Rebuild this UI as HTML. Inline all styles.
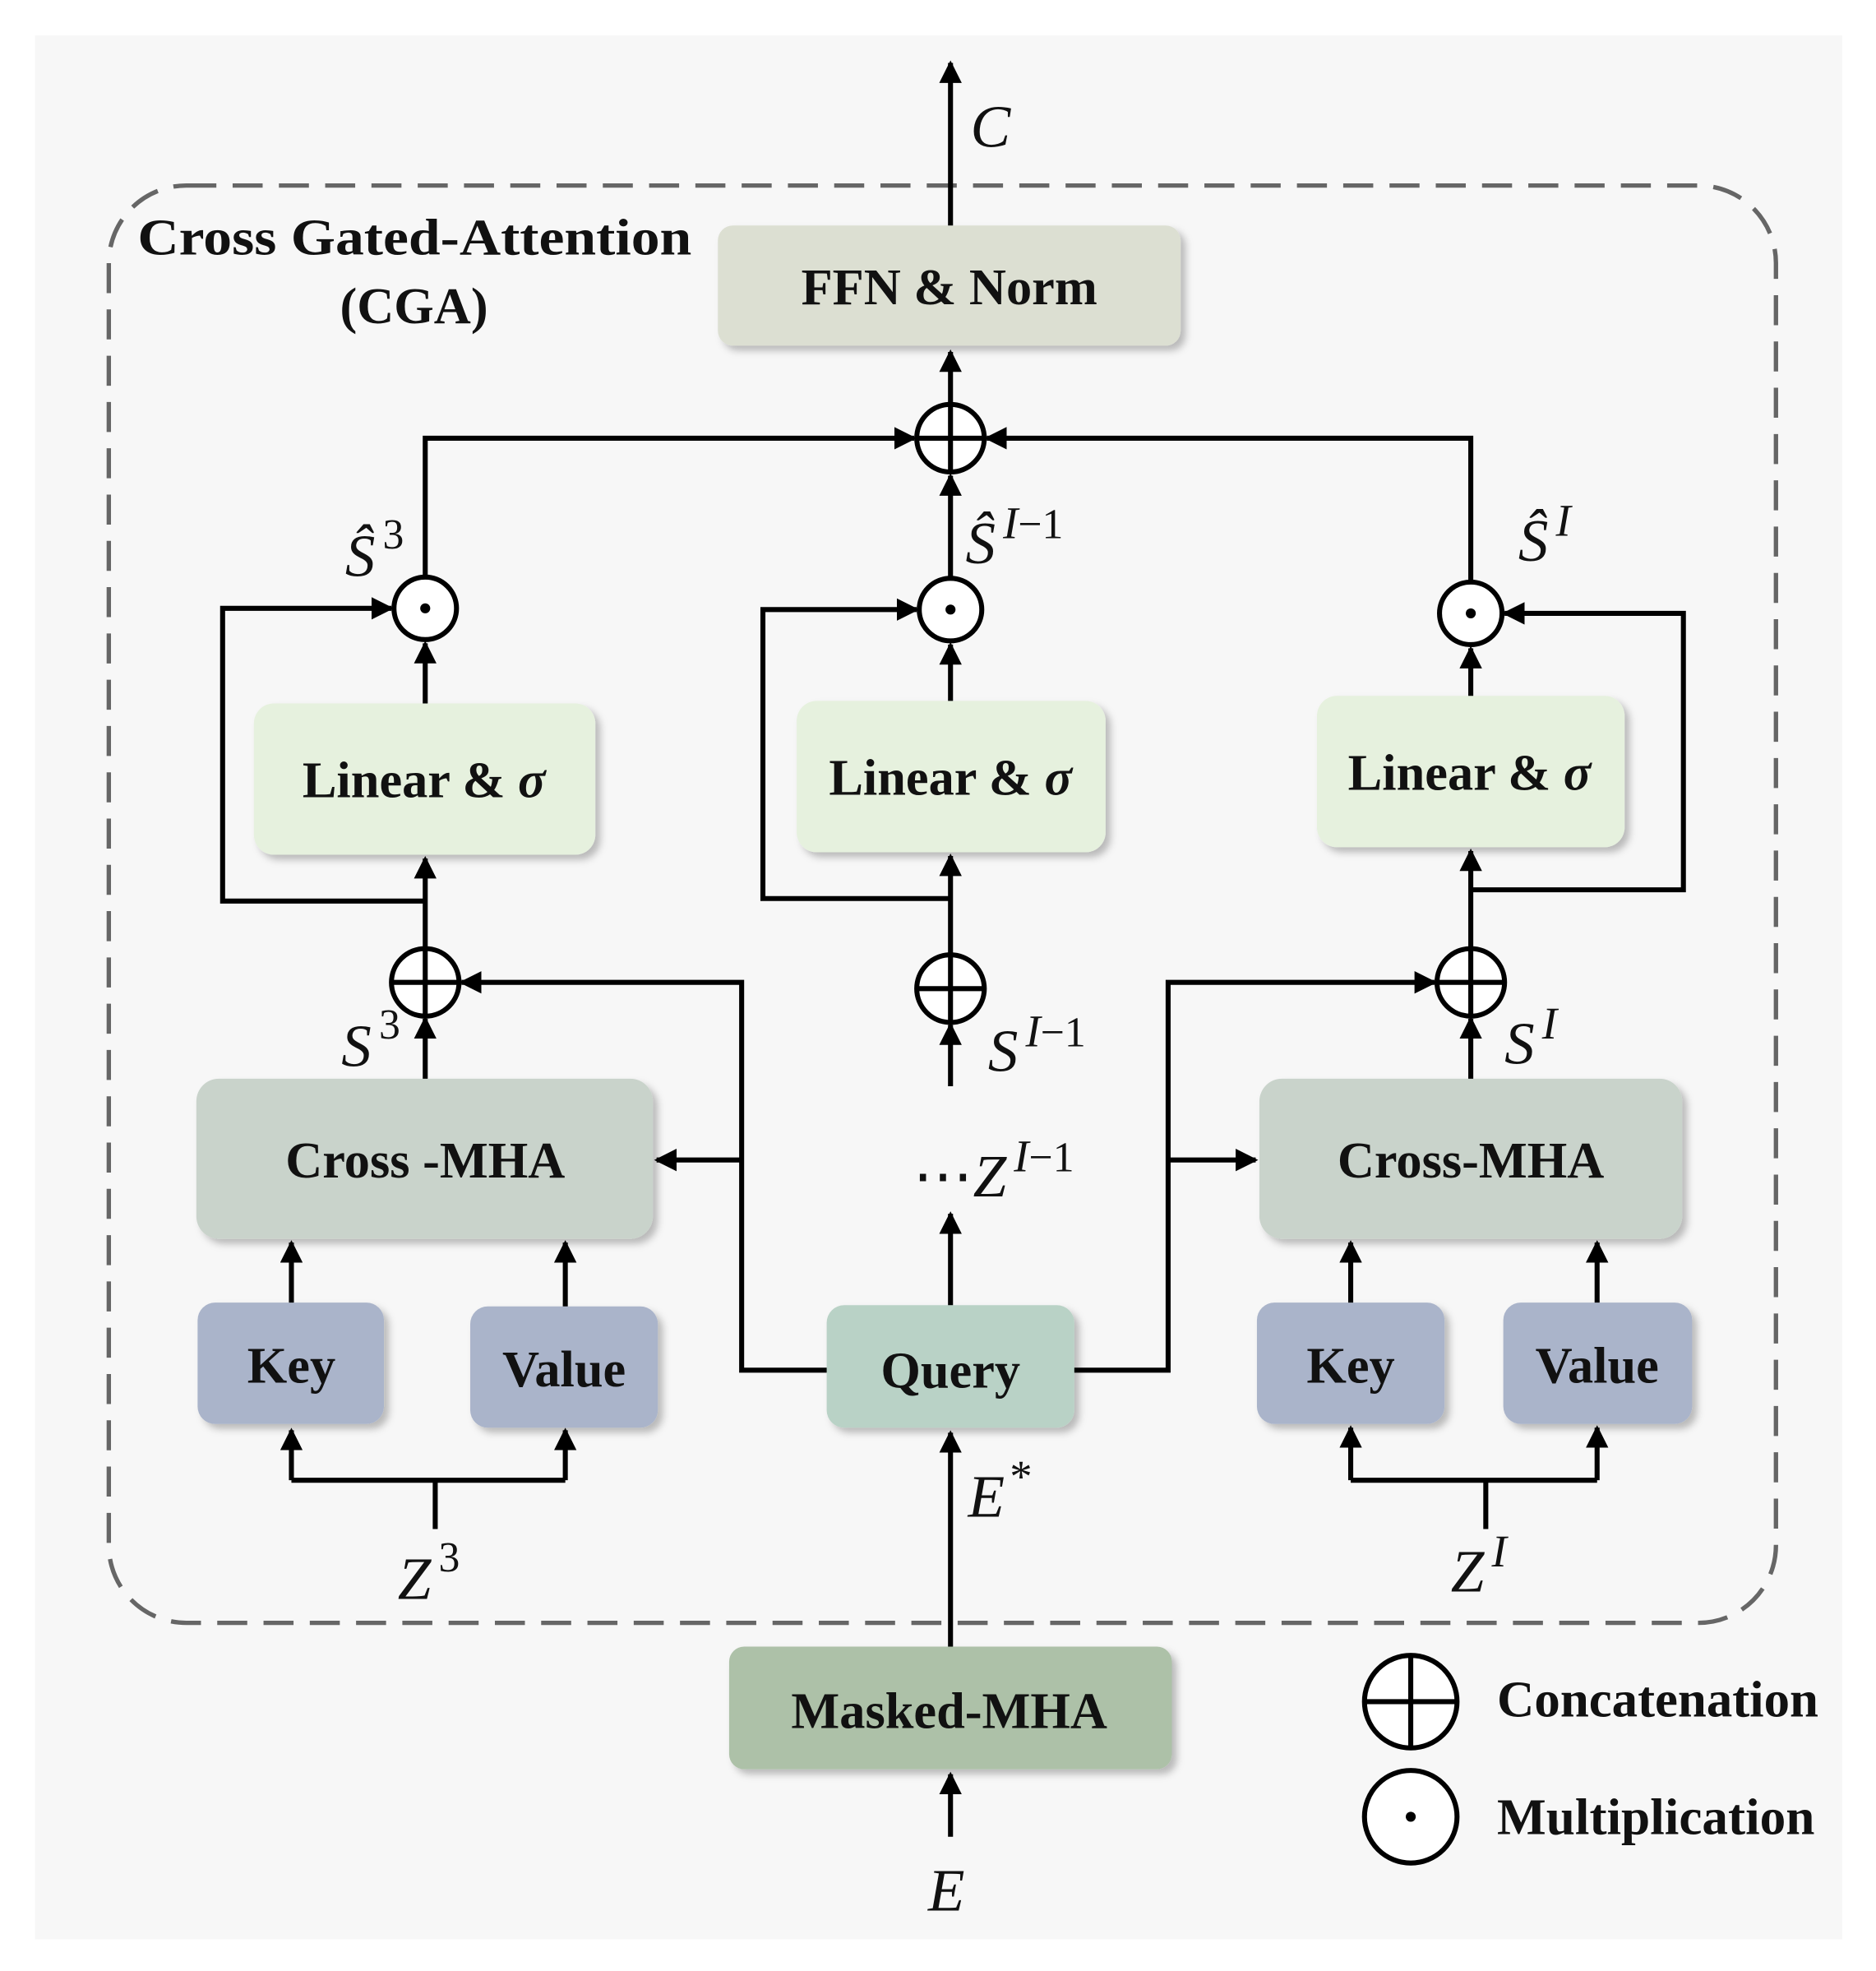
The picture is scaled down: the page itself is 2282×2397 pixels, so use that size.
<!DOCTYPE html>
<html><head><meta charset="utf-8"><style>
html,body{margin:0;padding:0;background:#fff;}
svg{display:block;}
.b{font-family:"Liberation Serif",serif;font-weight:bold;font-size:41px;text-anchor:middle;fill:#111;}
.m{font-family:"Liberation Serif",serif;font-style:italic;font-size:48px;fill:#111;}
.s{font-family:"Liberation Serif",serif;font-size:34px;fill:#111;}
.l{stroke:#000;stroke-width:4;fill:none;}
</style></head><body>
<svg width="2282" height="2397" viewBox="0 0 1500 1575" xmlns="http://www.w3.org/2000/svg">
<defs>
<marker id="a" markerWidth="4.5" markerHeight="4.5" refX="4" refY="2.25" orient="auto" markerUnits="strokeWidth"><path d="M0,0 L4.5,2.25 L0,4.5 z" fill="#000"/></marker>
<filter id="sh" x="-10%" y="-10%" width="125%" height="130%"><feDropShadow dx="4" dy="4" stdDeviation="3" flood-color="#000" flood-opacity="0.25"/></filter>
</defs>
<rect x="28" y="28" width="1445" height="1522" fill="#f7f7f7"/>
<rect x="87" y="148" width="1333" height="1149" rx="62" fill="none" stroke="#666" stroke-width="3.5" stroke-dasharray="24 13"/>
<text class="b" x="110" y="203" style="text-anchor:start" textLength="443" lengthAdjust="spacingAndGlyphs">Cross Gated-Attention</text>
<text class="b" x="331" y="258">(CGA)</text>

<g filter="url(#sh)">
<rect x="574" y="180" width="370" height="96" rx="12" fill="#dcdfd2"/>
<rect x="203" y="562" width="273" height="121" rx="16" fill="#e6f1de"/>
<rect x="637" y="560" width="247" height="121" rx="16" fill="#e6f1de"/>
<rect x="1053" y="556" width="246" height="121" rx="16" fill="#e6f1de"/>
<rect x="157" y="862" width="365" height="128" rx="18" fill="#c9d3cb"/>
<rect x="1007" y="862" width="338" height="128" rx="18" fill="#c9d3cb"/>
<rect x="158" y="1041" width="149" height="97" rx="14" fill="#aab4ca"/>
<rect x="376" y="1044" width="150" height="97" rx="14" fill="#aab4ca"/>
<rect x="1005" y="1041" width="150" height="97" rx="14" fill="#aab4ca"/>
<rect x="1202" y="1041" width="151" height="97" rx="14" fill="#aab4ca"/>
<rect x="661" y="1043" width="198" height="98" rx="14" fill="#b9d2c6"/>
<rect x="583" y="1316" width="354" height="98" rx="12" fill="#adc1a8"/>
</g>
<text class="b" x="759" y="243">FFN &amp; Norm</text>
<text class="b" x="339" y="637">Linear &amp; <tspan font-style="italic">σ</tspan></text>
<text class="b" x="760" y="635">Linear &amp; <tspan font-style="italic">σ</tspan></text>
<text class="b" x="1175" y="631">Linear &amp; <tspan font-style="italic">σ</tspan></text>
<text class="b" x="340" y="941">Cross -MHA</text>
<text class="b" x="1176" y="941">Cross-MHA</text>
<text class="b" x="233" y="1105">Key</text>
<text class="b" x="451" y="1108">Value</text>
<text class="b" x="1080" y="1105">Key</text>
<text class="b" x="1277" y="1105">Value</text>
<text class="b" x="760" y="1109">Query</text>
<text class="b" x="759" y="1381">Masked-MHA</text>

<g class="l">
<path d="M760,180 V50" marker-end="url(#a)"/>
<path d="M760,323 V281" marker-end="url(#a)"/>
<path d="M340,461 V350 H731" marker-end="url(#a)"/>
<path d="M1176,465 V350 H789" marker-end="url(#a)"/>
<path d="M760,462 V380" marker-end="url(#a)"/>
<path d="M340,562 V514" marker-end="url(#a)"/>
<path d="M760,560 V515" marker-end="url(#a)"/>
<path d="M1176,556 V518" marker-end="url(#a)"/>
<path d="M340,758 V686" marker-end="url(#a)"/>
<path d="M760,763 V684" marker-end="url(#a)"/>
<path d="M1176,758 V680" marker-end="url(#a)"/>
<path d="M340,720 H178 V486 H313" marker-end="url(#a)"/>
<path d="M760,718 H610 V487 H733" marker-end="url(#a)"/>
<path d="M1176,711 H1346 V490 H1203" marker-end="url(#a)"/>
<path d="M340,862 V814" marker-end="url(#a)"/>
<path d="M1176,862 V814" marker-end="url(#a)"/>
<path d="M760,868 V819" marker-end="url(#a)"/>
<path d="M661,1095 H593 V785 H369" marker-end="url(#a)"/>
<path d="M593,927 H525" marker-end="url(#a)"/>
<path d="M859,1095 H934 V785 H1147" marker-end="url(#a)"/>
<path d="M934,927 H1004" marker-end="url(#a)"/>
<path d="M760,1043 V970" marker-end="url(#a)"/>
<path d="M233,1041 V993" marker-end="url(#a)"/>
<path d="M452,1044 V993" marker-end="url(#a)"/>
<path d="M1080,1041 V993" marker-end="url(#a)"/>
<path d="M1277,1041 V993" marker-end="url(#a)"/>
<path d="M348,1222 V1183"/>
<path d="M233,1183 H452"/>
<path d="M233,1183 V1143" marker-end="url(#a)"/>
<path d="M452,1183 V1143" marker-end="url(#a)"/>
<path d="M1188,1222 V1183"/>
<path d="M1080,1183 H1277"/>
<path d="M1080,1183 V1141" marker-end="url(#a)"/>
<path d="M1277,1183 V1141" marker-end="url(#a)"/>
<path d="M760,1316 V1145" marker-end="url(#a)"/>
<path d="M760,1468 V1418" marker-end="url(#a)"/>
</g>

<g stroke="#000" stroke-width="4" fill="#fff">
<circle cx="760" cy="350" r="27"/>
<circle cx="340" cy="785" r="27"/>
<circle cx="760" cy="790" r="27"/>
<circle cx="1176" cy="785" r="27"/>
<circle cx="340" cy="486" r="25"/>
<circle cx="760" cy="487" r="25"/>
<circle cx="1176" cy="490" r="25"/>
<circle cx="1128" cy="1360" r="37"/>
<circle cx="1128" cy="1452" r="37"/>
</g>
<g stroke="#000" stroke-width="4">
<path d="M733,350 H787 M760,323 V377"/>
<path d="M313,785 H367 M340,758 V812"/>
<path d="M733,790 H787 M760,763 V817"/>
<path d="M1149,785 H1203 M1176,758 V812"/>
<path d="M1091,1360 H1165 M1128,1323 V1397"/>
</g>
<g fill="#000">
<circle cx="340" cy="486" r="4"/><circle cx="760" cy="487" r="4"/><circle cx="1176" cy="490" r="4"/><circle cx="1128" cy="1452" r="4"/>
</g>

<text class="m" x="776" y="117">C</text>
<text class="m" x="276" y="460">Ŝ<tspan class="s" dx="6" dy="-22" font-style="normal">3</tspan></text>
<text class="m" x="772" y="450">Ŝ<tspan dx="6" dy="-20" font-size="36">I</tspan><tspan class="s" font-style="normal">−1</tspan></text>
<text class="m" x="1214" y="448">Ŝ<tspan dx="6" dy="-20" font-size="36">I</tspan></text>
<text class="m" x="273" y="852">S<tspan class="s" dx="6" dy="-22" font-style="normal">3</tspan></text>
<text class="m" x="790" y="856">S<tspan dx="6" dy="-20" font-size="36">I</tspan><tspan class="s" font-style="normal">−1</tspan></text>
<text class="m" x="1203" y="850">S<tspan dx="6" dy="-20" font-size="36">I</tspan></text>
<text class="m" x="730" y="956"><tspan font-style="normal">⋯</tspan>Z<tspan dx="6" dy="-20" font-size="36">I</tspan><tspan class="s" font-style="normal">−1</tspan></text>
<text class="m" x="774" y="1212">E<tspan dx="4" dy="-20" font-size="36" font-style="normal">*</tspan></text>
<text class="m" x="318" y="1278">Z<tspan class="s" dx="6" dy="-22" font-style="normal">3</tspan></text>
<text class="m" x="1160" y="1272">Z<tspan dx="6" dy="-20" font-size="36">I</tspan></text>
<text class="m" x="742" y="1527">E</text>
<text class="b" x="1197" y="1372" style="text-anchor:start" textLength="257" lengthAdjust="spacingAndGlyphs">Concatenation</text>
<text class="b" x="1197" y="1466" style="text-anchor:start" textLength="254" lengthAdjust="spacingAndGlyphs">Multiplication</text>
</svg>
</body></html>
